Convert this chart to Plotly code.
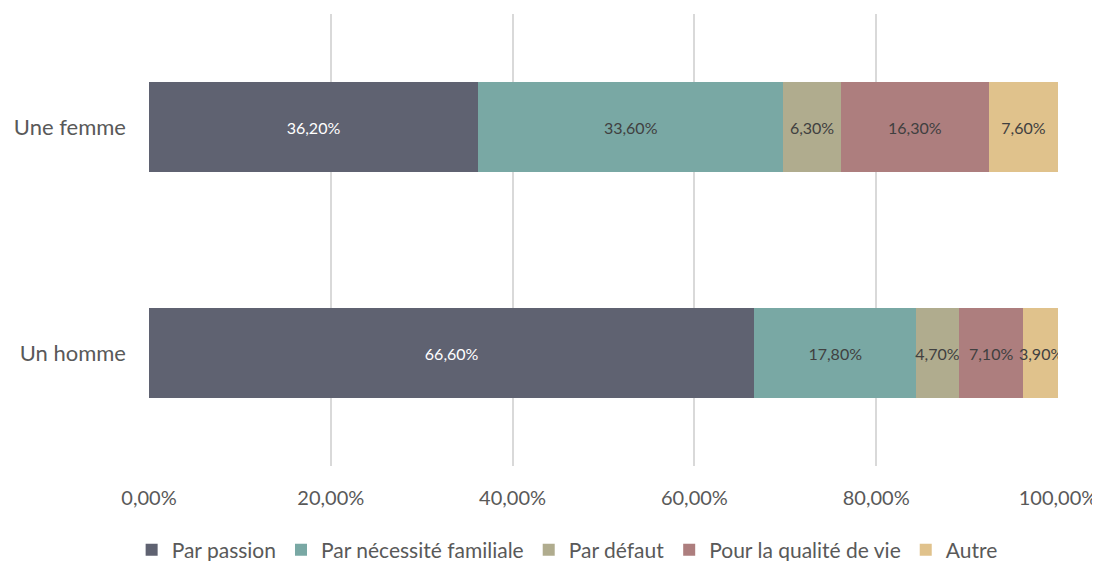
import plotly.graph_objects as go

categories = ["Un homme", "Une femme"]
series_names = ["Par passion", "Par nécessité familiale", "Par défaut", "Pour la qualité de vie", "Autre"]
par_passion = [66.6, 36.2]
par_necessite = [17.8, 33.6]
par_defaut = [4.7, 6.3]
qualite_vie = [7.1, 16.3]
autre = [3.9, 7.6]
tick_vals = [0, 20, 40, 60, 80, 100]
tick_text = ["0,00%", "20,00%", "40,00%", "60,00%", "80,00%", "100,00%"]

series_values = [par_passion, par_necessite, par_defaut, qualite_vie, autre]
colors = ["#5f6271", "#79a8a4", "#b0ac8e", "#ad7e7e", "#e0c28c"]
text_colors = ["#ffffff", "#404040", "#404040", "#404040", "#404040"]

FONT = "Lato, Calibri, Carlito, sans-serif"

fig = go.Figure()
for name, vals, col, tcol in zip(series_names, series_values, colors, text_colors):
    fig.add_trace(go.Bar(
        y=categories, x=vals, name=name, orientation="h",
        marker=dict(color=col, line=dict(width=0)),
        text=[f"{v:.2f}%".replace(".", ",") for v in vals],
        textposition="inside", insidetextanchor="middle", textangle=0,
        constraintext="none",
        textfont=dict(color=tcol, size=16, family=FONT),
    ))

# The page body has an 8px margin, so the figure is offset by 8px.
fig.update_layout(
    barmode="stack", bargap=0.6,
    width=1092, height=553,
    margin=dict(l=141, r=42, t=6, b=95, autoexpand=False),
    plot_bgcolor="white", paper_bgcolor="white",
    font=dict(family=FONT, color="#595959", size=20),
    xaxis=dict(range=[0, 100], tickvals=tick_vals, ticktext=tick_text,
               showgrid=True, gridcolor="#d9d9d9", gridwidth=1.5, zeroline=False,
               showline=False, ticks="", ticklabelstandoff=18,
               tickfont=dict(size=20, color="#595959")),
    yaxis=dict(showgrid=False, zeroline=False, showline=False, ticks="",
               ticklabelstandoff=22, tickfont=dict(size=22, color="#595959")),
    legend=dict(orientation="h", x=0.46, xanchor="center", y=-0.186, yanchor="middle",
                font=dict(size=21, color="#595959"), traceorder="normal",
                itemwidth=30),
    showlegend=True,
)

fig.write_html("out.html")
